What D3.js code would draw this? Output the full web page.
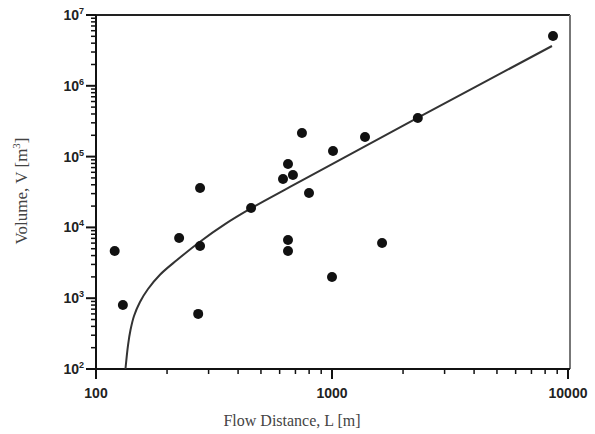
<!DOCTYPE html>
<html lang="en">
<head>
<meta charset="UTF-8" />
<title>Volume vs flow distance</title>
<script src="https://cdn.jsdelivr.net/npm/d3@7"></script>
<style>
  body { margin: 0; background: #fff; }
  .tick-label { font-family: "Liberation Sans", Arial, sans-serif; font-weight: bold; fill: #222; }
  .axis-title { font-family: "Liberation Serif", "Times New Roman", serif; fill: #444; }
</style>
</head>
<body>
<svg width="595" height="434"></svg>
<script>
// observed lava flows: distance L [m], volume V [m^3]
const flowDistance = [120, 130, 225, 276, 276, 271, 454, 620, 651, 683, 746, 799, 651, 651, 1010, 1000, 1380, 1630, 2310, 8640];
const flowVolume = [4640, 800, 7080, 36000, 5460, 600, 18800, 48300, 78600, 55000, 215000, 30600, 6640, 4640, 120000, 1990, 189000, 6020, 351000, 5050000];

// fitted curve
const fitL = [133.3, 136.7, 140, 144.9, 153.6, 166.1, 186.7, 220.4, 275.9, 352.2, 449.3, 663.7, 1010, 2292, 8553];
const fitV = [100, 218, 355, 561, 884, 1349, 2147, 3464, 6281, 11100, 18200, 37210, 79620, 348600, 3649000];

const xTicks = [100, 1000, 10000];
const yTicks = [1e2, 1e3, 1e4, 1e5, 1e6, 1e7];

const svg = d3.select("svg");
const mLeft = 96, mRight = 570, mTop = 15, mBottom = 369;

const x = d3.scaleLog().domain([100, 10000]).range([mLeft, mRight - 2]);
const y = d3.scaleLog().domain([100, 1e7]).range([mBottom, mTop]);

// minor ticks: 2..9 in every decade
const minorX = [], minorY = [];
for (let d = 100; d < 10000; d *= 10) for (let k = 2; k < 10; k++) minorX.push(d * k);
for (let d = 100; d < 1e7; d *= 10) for (let k = 2; k < 10; k++) minorY.push(d * k);

// frame (top and right)
svg.append("line").attr("x1", mLeft).attr("x2", mRight).attr("y1", mTop).attr("y2", mTop)
  .attr("stroke", "#222").attr("stroke-width", 2);
svg.append("line").attr("x1", mRight).attr("x2", mRight).attr("y1", mTop).attr("y2", mBottom)
  .attr("stroke", "#777").attr("stroke-width", 2);

// x axis
const gx = svg.append("g");
gx.append("line").attr("x1", mLeft - 10).attr("x2", mRight).attr("y1", mBottom).attr("y2", mBottom)
  .attr("stroke", "#111").attr("stroke-width", 2);
gx.selectAll(".minor").data(minorX).join("line")
  .attr("x1", d => x(d)).attr("x2", d => x(d)).attr("y1", mBottom).attr("y2", mBottom + 5)
  .attr("stroke", "#111").attr("stroke-width", 1.5);
gx.selectAll(".major").data(xTicks).join("line")
  .attr("x1", d => x(d)).attr("x2", d => x(d)).attr("y1", mBottom).attr("y2", mBottom + 10)
  .attr("stroke", "#111").attr("stroke-width", 2);
gx.selectAll("text").data(xTicks).join("text")
  .attr("class", "tick-label")
  .attr("x", d => x(d)).attr("y", mBottom + 29)
  .attr("text-anchor", "middle").attr("font-size", 14)
  .text(d => d);

// y axis
const gy = svg.append("g");
gy.append("line").attr("x1", mLeft).attr("x2", mLeft).attr("y1", mTop).attr("y2", mBottom + 10)
  .attr("stroke", "#111").attr("stroke-width", 2);
gy.selectAll(".minor").data(minorY).join("line")
  .attr("x1", mLeft - 5).attr("x2", mLeft).attr("y1", d => y(d)).attr("y2", d => y(d))
  .attr("stroke", "#111").attr("stroke-width", 1.5);
gy.selectAll(".major").data(yTicks).join("line")
  .attr("x1", mLeft - 10).attr("x2", mLeft).attr("y1", d => y(d)).attr("y2", d => y(d))
  .attr("stroke", "#111").attr("stroke-width", 2);
const yl = gy.selectAll("text").data(yTicks).join("text")
  .attr("class", "tick-label")
  .attr("x", mLeft - 12).attr("y", d => y(d) + 5)
  .attr("text-anchor", "end").attr("font-size", 14);
yl.append("tspan").text("10");
yl.append("tspan").attr("dy", -6).attr("font-size", 9).text(d => Math.round(Math.log10(d)));

// fitted curve
const fit = fitL.map((l, i) => [l, fitV[i]]);
svg.append("path")
  .datum(fit)
  .attr("fill", "none").attr("stroke", "#333").attr("stroke-width", 2)
  .attr("d", d3.line().x(d => x(d[0])).y(d => y(d[1])).curve(d3.curveCatmullRom.alpha(0.5)));

// data points
const pts = flowDistance.map((l, i) => [l, flowVolume[i]]);
svg.append("g").selectAll("circle").data(pts).join("circle")
  .attr("cx", d => x(d[0])).attr("cy", d => y(d[1])).attr("r", 5)
  .attr("fill", "#111");

// axis titles
svg.append("text").attr("class", "axis-title")
  .attr("x", 292).attr("y", 426).attr("text-anchor", "middle").attr("font-size", 16)
  .text("Flow Distance, L [m]");

const yt = svg.append("text").attr("class", "axis-title")
  .attr("transform", "translate(27,191) rotate(-90)")
  .attr("text-anchor", "middle").attr("font-size", 17);
yt.append("tspan").text("Volume, V [m");
yt.append("tspan").attr("dy", -7).attr("font-size", 11).text("3");
yt.append("tspan").attr("dy", 7).text("]");
</script>
</body>
</html>
